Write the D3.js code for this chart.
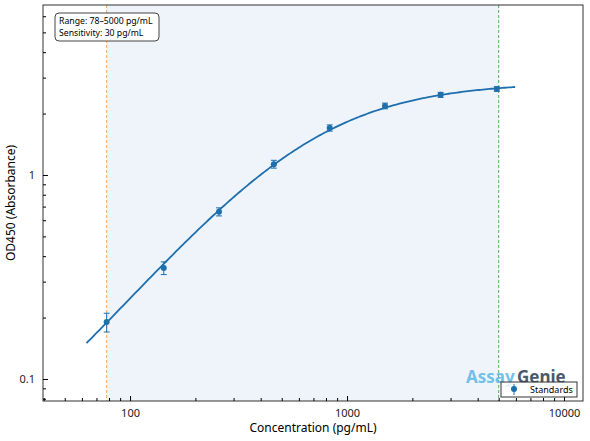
<!DOCTYPE html><html><head><script src="https://cdn.jsdelivr.net/npm/d3@7"></script>
<style>body{margin:0;background:#fff}text{font-family:"Noto Sans",sans-serif}</style></head><body>
<svg id="c" width="590" height="441"></svg>
<script>
const conc=[78,143,257,460,832,1496,2700,4900];
const od=[0.19,0.35,0.66,1.13,1.70,2.18,2.47,2.64];
const err=[0.02,0.025,0.03,0.05,0.06,0.07,0.07,0.07];
const fit={a:0.02,d:2.85,c:650,b:1.3,xmin:63,xmax:5950};
const xTicks=[100,1000,10000], yTicks=[0.1,1];
const svg=d3.select("#c");
const L=43,R=583,T=5,B=401;
const x=d3.scaleLog().domain([39.7,12230]).range([L,R]);
const y=d3.scaleLog().domain([0.078,6.81]).range([B,T]);
svg.append("rect").attr("x",x(78)).attr("y",T).attr("width",x(5000)-x(78)).attr("height",B-T).attr("fill","#eef4fa");
svg.append("line").attr("x1",x(78)).attr("x2",x(78)).attr("y1",T).attr("y2",B).attr("stroke","#f0a860").attr("stroke-dasharray","3,2").attr("stroke-width",1);
svg.append("line").attr("x1",x(5000)).attr("x2",x(5000)).attr("y1",T).attr("y2",B).attr("stroke","#4caf50").attr("stroke-dasharray","3,2").attr("stroke-width",1);
const f=v=>fit.d+(fit.a-fit.d)/(1+Math.pow(v/fit.c,fit.b));
const xs=d3.range(0,201).map(i=>fit.xmin*Math.pow(fit.xmax/fit.xmin,i/200));
svg.append("path").attr("d",d3.line().x(v=>x(v)).y(v=>y(f(v)))(xs)).attr("fill","none").attr("stroke","#1f6fae").attr("stroke-width",1.8);
const g=svg.append("g");
conc.forEach((c,i)=>{
 const cx=x(c),y1=y(od[i]+err[i]),y0=y(od[i]-err[i]);
 g.append("line").attr("x1",cx).attr("x2",cx).attr("y1",y1).attr("y2",y0).attr("stroke","#1f6fae");
 [y1,y0].forEach(yy=>g.append("line").attr("x1",cx-3).attr("x2",cx+3).attr("y1",yy).attr("y2",yy).attr("stroke","#1f6fae"));
 g.append("circle").attr("cx",cx).attr("cy",y(od[i])).attr("r",3).attr("fill","#1f6fae");
});
svg.append("rect").attr("x",L).attr("y",T).attr("width",R-L).attr("height",B-T).attr("fill","none").attr("stroke","#333");
svg.append("g").attr("transform",`translate(0,${B})`).call(d3.axisBottom(x).tickValues(xTicks).tickFormat(d3.format("d")).tickSizeInner(-5).tickSizeOuter(0).tickPadding(8));
const xm=[];for(let e=1;e<=4;e++)for(let k=2;k<=9;k++){const v=k*Math.pow(10,e);if(v>39.7&&v<12230)xm.push(v);}
svg.append("g").attr("transform",`translate(0,${B})`).call(d3.axisBottom(x).tickValues(xm).tickFormat("").tickSizeInner(-3).tickSizeOuter(0));
svg.append("g").attr("transform",`translate(${L},0)`).call(d3.axisLeft(y).tickValues(yTicks).tickFormat(d=>d).tickSizeInner(-5).tickSizeOuter(0).tickPadding(8));
const ym=[];for(let e=-2;e<=1;e++)for(let k=2;k<=9;k++){const v=k*Math.pow(10,e);if(v>0.078&&v<6.81)ym.push(v);}
svg.append("g").attr("transform",`translate(${L},0)`).call(d3.axisLeft(y).tickValues(ym).tickFormat("").tickSizeInner(-3).tickSizeOuter(0));
svg.selectAll(".domain").remove();
svg.selectAll(".tick text").attr("font-size",11).attr("fill","#222");
svg.append("text").attr("x",(L+R)/2).attr("y",432).attr("text-anchor","middle").attr("font-size",12).text("Concentration (pg/mL)");
svg.append("text").attr("transform",`translate(15,${(T+B)/2}) rotate(-90)`).attr("text-anchor","middle").attr("font-size",12).text("OD450 (Absorbance)");
svg.append("rect").attr("x",55).attr("y",13).attr("width",104).attr("height",28).attr("rx",4).attr("fill","#fff").attr("stroke","#444");
svg.append("text").attr("x",59).attr("y",24).attr("font-size",8.7).text("Range: 78–5000 pg/mL");
svg.append("text").attr("x",59).attr("y",36).attr("font-size",8.7).text("Sensitivity: 30 pg/mL");
svg.append("text").attr("x",466).attr("y",383).attr("font-size",17).attr("font-weight","bold").attr("fill","#5bb8e6").attr("opacity",0.85).text("Assay");
svg.append("text").attr("x",517).attr("y",383).attr("font-size",17).attr("font-weight","bold").attr("fill","#2b3d55").attr("opacity",0.85).text("Genie");
svg.append("rect").attr("x",501).attr("y",382).attr("width",76).attr("height",15).attr("fill","#fff").attr("fill-opacity",0.8).attr("stroke","#333");
svg.append("circle").attr("cx",514).attr("cy",389).attr("r",3).attr("fill","#1f6fae");
svg.append("line").attr("x1",514).attr("x2",514).attr("y1",384).attr("y2",395).attr("stroke","#1f6fae");
svg.append("text").attr("x",530).attr("y",393).attr("font-size",9).text("Standards");
</script></body></html>
